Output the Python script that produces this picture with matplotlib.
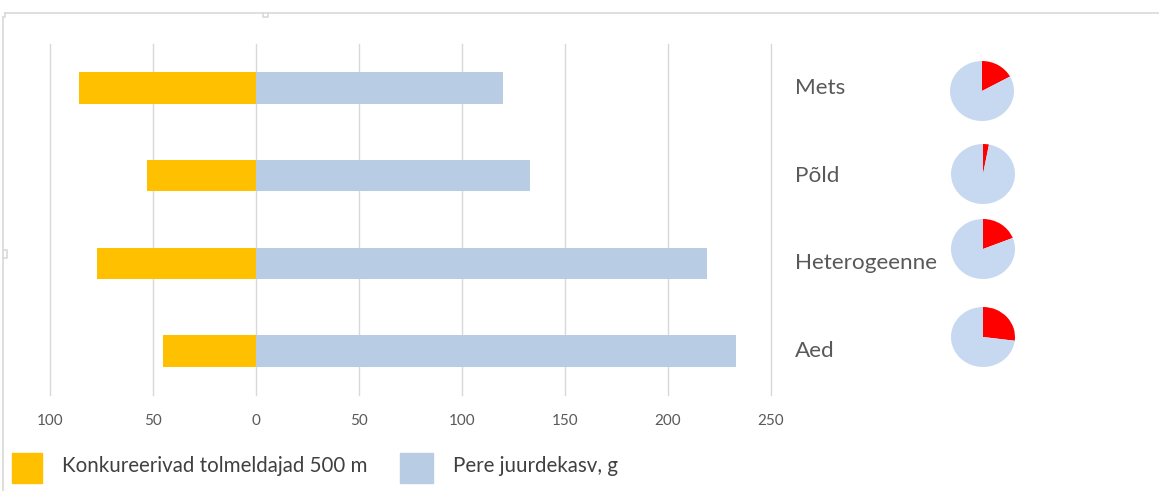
import matplotlib.pyplot as plt
import matplotlib.patches as mpatches
from matplotlib.lines import Line2D

# habitat categories, top to bottom
categories = ['Mets', 'Põld', 'Heterogeenne', 'Aed']
competitors = [86, 53, 77, 45]        # Konkureerivad tolmeldajad 500 m (drawn to the left)
growth = [120, 133, 219, 233]         # Pere juurdekasv, g
pie_share = [17, 3, 19, 27]           # red share in the small pies, %
tick_values = [-100, -50, 0, 50, 100, 150, 200, 250]

yellow = '#ffc000'
blue = '#b8cce4'
pie_blue = '#c6d9f0'
text_grey = '#595959'
font = 'Lato'

W, H = 1159, 491
fig = plt.figure(figsize=(W / 100, H / 100), dpi=100)

def px_axes(x0, y0, x1, y1):
    # axes from pixel box (top-left origin)
    return fig.add_axes([x0 / W, 1 - y1 / H, (x1 - x0) / W, (y1 - y0) / H])

# frame lines around the chart object
frame = fig.add_axes([0, 0, 1, 1])
frame.set_xlim(0, W)
frame.set_ylim(H, 0)
frame.axis('off')
frame.add_line(Line2D([5, W], [13, 13], color='#d9d9d9', lw=1.2))
frame.add_line(Line2D([3, 3], [17, H], color='#d9d9d9', lw=1.2))
frame.add_line(Line2D([3, 5, 5], [17, 17, 13], color='#d9d9d9', lw=1.2))
frame.add_line(Line2D([263, 263, 268, 268], [13, 17, 17, 13], color='#d9d9d9', lw=1.2))
frame.add_line(Line2D([3, 7, 7, 3], [250, 250, 258, 258], color='#d9d9d9', lw=1.2))

# main bar chart
ax = px_axes(50, 44, 771, 395)
ypos = list(range(len(categories)))
ax.barh(ypos, [-v for v in competitors], height=0.36, color=yellow)
ax.barh(ypos, growth, height=0.36, color=blue)
ax.set_xlim(-100, 250)
ax.set_ylim(len(categories) - 0.5, -0.5)
ax.set_xticks(tick_values)
ax.set_xticklabels([str(abs(v)) for v in tick_values], fontsize=11, color=text_grey, family=font)
ax.tick_params(axis='x', length=0, pad=14)
ax.set_yticks([])
for s in ax.spines.values():
    s.set_visible(False)
ax.set_axisbelow(True)
ax.grid(axis='x', color='#d9d9d9', lw=1)
for gl in ax.get_xgridlines():
    gl.set_clip_on(False)

# category labels next to the bars
for i, name in enumerate(categories):
    y = ax.transData.transform((0, i))[1]
    fig.text(795 / W, y / fig.dpi / fig.get_figheight(), name, fontsize=16.2,
             color=text_grey, family=font, va='center', ha='left')

# small pies
pie_centres = [(982, 91), (983, 174), (983, 249), (983, 337)]
for (cx, cy), share in zip(pie_centres, pie_share):
    pax = px_axes(cx - 32, cy - 30, cx + 32, cy + 30)
    pax.pie([share, 100 - share], colors=['#ff0000', pie_blue], startangle=90,
            counterclock=False, radius=1)
    pax.set_aspect('auto')
    pax.set_xlim(-1, 1)
    pax.set_ylim(-1, 1)

# legend
legend_items = [(12, 453, 42, yellow, 'Konkureerivad tolmeldajad 500 m'),
                (400, 453, 433, blue, 'Pere juurdekasv, g')]
for x0, y0, x1, col, label in legend_items:
    frame.add_patch(mpatches.Rectangle((x0, y0), x1 - x0, 30, color=col))
    frame.text(x1 + 20, y0 + 13, label, fontsize=14.8, color='#404040', family=font,
               va='center', ha='left')

fig.savefig('out.png', dpi=100)
